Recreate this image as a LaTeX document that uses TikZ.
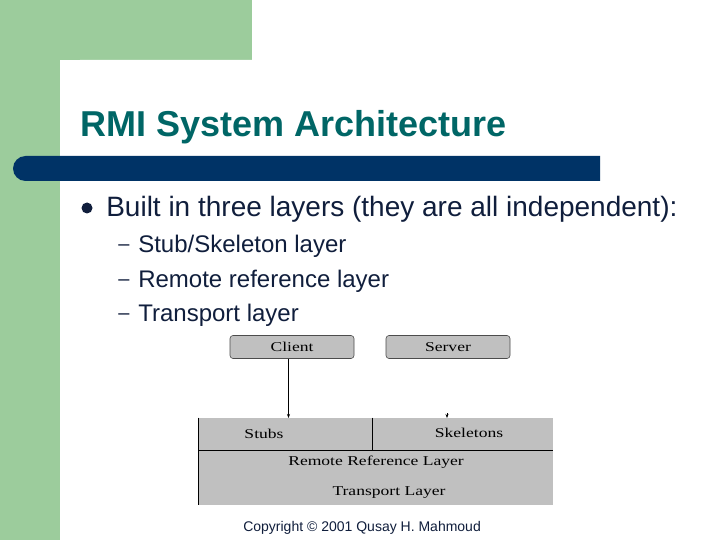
\documentclass[tikz,border=0pt]{standalone}
\usepackage{fontspec}
\setmainfont{Liberation Sans}
\newfontfamily\layerfont[FakeStretch=1.3]{Liberation Serif}
\usetikzlibrary{arrows.meta}

\definecolor{sidegreen}{RGB}{156,204,156}
\definecolor{titleteal}{RGB}{0,102,102}
\definecolor{barblue}{RGB}{0,51,102}
\definecolor{bodynavy}{RGB}{16,30,60}
\definecolor{layergray}{RGB}{192,192,192}

\begin{document}
\begin{tikzpicture}[%
    x=1pt, y=-1pt,
    line width=0.6pt,
    textline/.style={anchor=base west, inner sep=0pt, text=bodynavy},
    appbox/.style={
        draw=gray!60!black,
        fill=layergray,
        rounded corners=3pt,
        minimum width=124pt,
        minimum height=23pt,
        inner sep=0pt,
        font=\layerfont\fontsize{13.5}{15}\selectfont
    },
    layerbox/.style={
        fill=layergray,
        inner sep=0pt,
        font=\layerfont\fontsize{13.5}{15}\selectfont
    }
]
    % Page size, pixels of the slide.
    \useasboundingbox[fill=white] (0,0) rectangle (720,540);

    % Green frame on the left and at the top.
    \fill[sidegreen] (0,0) rectangle (252,60);
    \fill[sidegreen] (0,0) rectangle (60,540);
    \fill[white] (60,540) -- (60,80) .. controls (60,69) and (69,60) .. (80,60)
        -- (720,60) -- (720,540) -- cycle;

    % Title and the bar below it.
    \node[anchor=base west, inner sep=0pt, text=titleteal,
          font=\bfseries\fontsize{36}{40}\selectfont] (title) at (80,137)
        {RMI System Architecture};
    \fill[barblue] (600,156) [rounded corners=12.5pt] -- (13,156) -- (13,181)
        [sharp corners] -- (600,181) -- cycle;

    % Bullet list.
    \fill[bodynavy] (87,208) circle (5.5);
    \node[textline, font=\fontsize{28}{32}\selectfont] (point) at (106,217)
        {Built in three layers (they are all independent):};
    \foreach \y/\txt [count=\i] in {252/{Stub/Skeleton layer},
                                    287/{Remote reference layer},
                                    321/{Transport layer}} {
        \node[textline, font=\fontsize{20}{24}\selectfont] (dash\i) at (118,\y-2) {--};
        \node[textline, font=\fontsize{24}{28}\selectfont] (sub\i) at (138,\y) {\txt};
    }

    % Client and server.
    \node[appbox] (client) at (292,347) {Client};
    \node[appbox] (server) at (448,347) {Server};

    % The layers.
    \node[layerbox, minimum width=173pt, minimum height=32pt] (stubs) at (285.5,434) {};
    \node[layerbox, minimum width=181pt, minimum height=32pt] (skel)  at (462.5,434) {};
    \node[layerbox, minimum width=354pt, minimum height=55pt] (lower) at (376,477.5) {};
    \node[layerbox, fill=none] (stubstxt) at (264,434) {Stubs};
    \node[layerbox, fill=none] (skeltxt)  at (469,433) {Skeletons};
    \node[layerbox, fill=none] (remote)   at (376,462) {Remote Reference Layer};
    \node[layerbox, fill=none] (transport) at (389,493) {Transport Layer};

    % Lines between the layers.
    \draw (stubs.north west) -- (lower.south west);
    \draw (stubs.south west) -- (skel.south east);
    \draw (stubs.north east) -- (stubs.south east);

    % Calls going down.
    \coordinate (cdrop) at (288.5,418);
    \coordinate (sdrop) at (447,418);
    \coordinate (stop)  at (447,413);
    \draw[-{Stealth[length=4pt,width=3pt]}] (client.south -| cdrop) -- (cdrop);
    \draw[-{Stealth[length=4pt,width=3pt]}] (stop) -- (sdrop);

    % Footer.
    \node[textline, font=\fontsize{14}{16}\selectfont] (copy) at (243,531)
        {Copyright \textcopyright{} 2001 Qusay H. Mahmoud};
\end{tikzpicture}
\end{document}
